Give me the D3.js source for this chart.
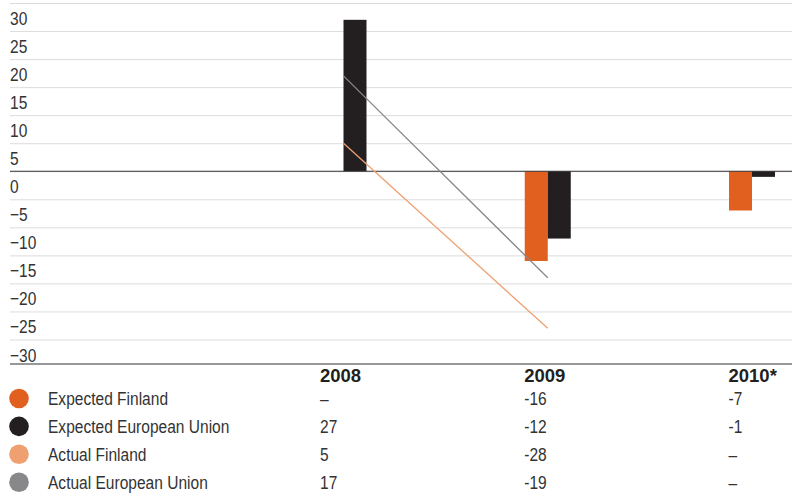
<!DOCTYPE html>
<html>
<head>
<meta charset="utf-8">
<script src="https://cdn.jsdelivr.net/npm/d3@7"></script>
<style>
  html, body { margin: 0; padding: 0; background: #fff; }
  svg { display: block; font-family: "Liberation Sans", Arial, sans-serif; }
</style>
</head>
<body>
<svg id="chart" width="797" height="496"></svg>
<script>
// Years shown on the category axis and in the table header
const years = ["2008", "2009", "2010*"];

// Annual change, %
const expectedFinland = [null, -16, -7];
const expectedEU = [27, -12, -1];
const actualFinland = [5, -28, null];
const actualEU = [17, -19, null];

// Value axis ticks
const yTicks = [30, 25, 20, 15, 10, 5, 0, -5, -10, -15, -20, -25, -30];

const seriesNames = ["Expected Finland", "Expected European Union", "Actual Finland", "Actual European Union"];
const seriesColors = ["#e1601f", "#231f20", "#eea070", "#88888a"];

const rows = [
  { name: seriesNames[0], color: seriesColors[0], values: expectedFinland },
  { name: seriesNames[1], color: seriesColors[1], values: expectedEU },
  { name: seriesNames[2], color: seriesColors[2], values: actualFinland },
  { name: seriesNames[3], color: seriesColors[3], values: actualEU }
];

const svg = d3.select("#chart");
const left = 10, right = 792;
const textColor = "#333";
const fontSize = "18.5px";
const narrow = 0.84; // horizontal squeeze for a condensed look

// Place a text at (px, py) with a horizontal squeeze applied
function place(sel, px, py, sx = narrow) {
  sel.attr("x", 0).attr("y", 0).attr("dy", null)
    .attr("transform", (d, i) => {
      const X = typeof px === "function" ? px(d, i) : px;
      const Y = typeof py === "function" ? py(d, i) : py;
      return `translate(${X},${Y}) scale(${sx},1)`;
    });
  return sel;
}

// Scales
const x = d3.scalePoint().domain(years).range([343.5, 752]);
const y = d3.scaleLinear().domain([-30, 30]).range([339.5, 3]);
const barW = 23;

// Grid with labels sitting under each line
const axis = svg.append("g")
  .attr("transform", `translate(${left},0)`)
  .call(d3.axisRight(y).tickValues(yTicks).tickSize(right - left).tickFormat(d3.format("d")));
axis.select(".domain").remove();
axis.selectAll(".tick line").attr("stroke", "#dcdcdc").attr("stroke-width", 1);
place(axis.selectAll(".tick text"), 0, 21.5)
  .attr("text-anchor", "start")
  .attr("fill", textColor)
  .style("font-size", fontSize);

// Columns: expected values
const barData = [];
years.forEach((yr, i) => {
  if (expectedFinland[i] != null) barData.push({ yr, v: expectedFinland[i], off: -barW, color: seriesColors[0] });
  if (expectedEU[i] != null) barData.push({ yr, v: expectedEU[i], off: 0, color: seriesColors[1] });
});
svg.append("g").selectAll("rect").data(barData).join("rect")
  .attr("x", d => x(d.yr) + d.off)
  .attr("width", barW)
  .attr("y", d => Math.min(y(d.v), y(0)))
  .attr("height", d => Math.abs(y(d.v) - y(0)))
  .attr("fill", d => d.color);

// Zero line
svg.append("line")
  .attr("x1", left).attr("x2", right)
  .attr("y1", y(0)).attr("y2", y(0))
  .attr("stroke", "#333").attr("stroke-width", 1.2);

// Lines: actual values
const line = d3.line()
  .defined(d => d.v != null)
  .x(d => x(d.yr))
  .y(d => y(d.v));
[[actualFinland, seriesColors[2]], [actualEU, seriesColors[3]]].forEach(([vals, color]) => {
  svg.append("path")
    .datum(years.map((yr, i) => ({ yr, v: vals[i] })))
    .attr("fill", "none")
    .attr("stroke", color)
    .attr("stroke-width", 1.3)
    .attr("d", line);
});

// Separator between chart and table
svg.append("line")
  .attr("x1", left).attr("x2", right)
  .attr("y1", 364).attr("y2", 364)
  .attr("stroke", "#333").attr("stroke-width", 1.2);

// Table header
const colX = yr => x(yr) - 23.5;
place(svg.append("g").selectAll("text").data(years).join("text"), d => colX(d), 382, 1)
  .attr("fill", "#231f20")
  .style("font-size", fontSize)
  .style("font-weight", "bold")
  .text(d => d);

// Table rows with legend swatches
const rowY = i => 398.5 + i * 27.9;
const rowG = svg.append("g").selectAll("g").data(rows).join("g")
  .attr("transform", (d, i) => `translate(0,${rowY(i)})`);
rowG.append("circle")
  .attr("cx", 19).attr("cy", 0).attr("r", 9.8)
  .attr("fill", d => d.color);
place(rowG.append("text"), 48, 6.8)
  .attr("fill", textColor)
  .style("font-size", fontSize)
  .text(d => d.name);
rowG.each(function (d) {
  const cells = d3.select(this).selectAll("text.val")
    .data(years.map((yr, i) => ({ yr, v: d.values[i] })))
    .join("text")
    .attr("class", "val");
  place(cells, e => colX(e.yr), 6.8)
    .attr("fill", textColor)
    .style("font-size", fontSize)
    .text(e => e.v == null ? "–" : String(e.v));
});
</script>
</body>
</html>
